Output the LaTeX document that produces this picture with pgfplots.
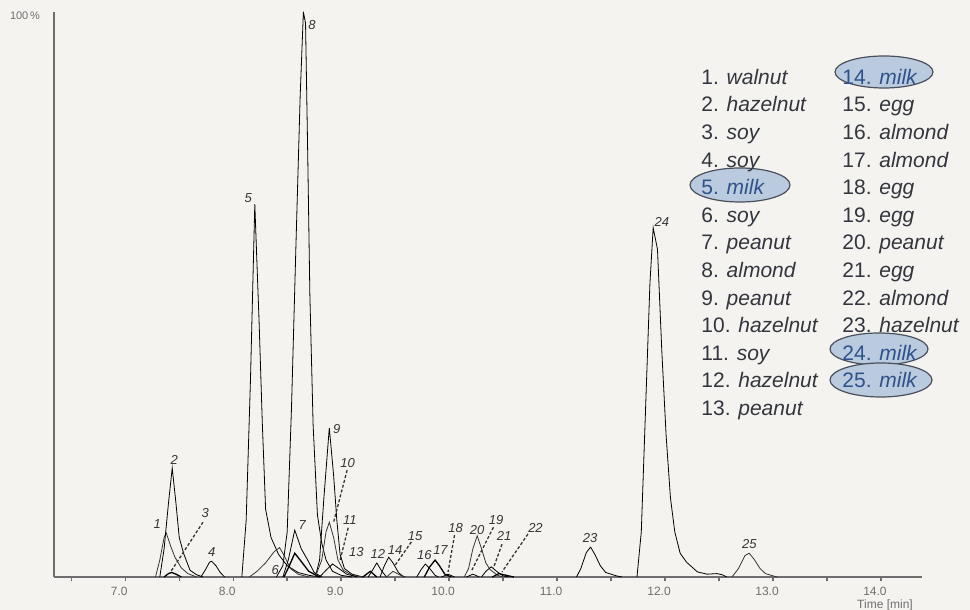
\documentclass[border=0pt]{standalone}
\usepackage{fontspec}
\setmainfont{Liberation Sans}
\usepackage{pgfplots}
\pgfplotsset{compat=1.18}
\definecolor{bg}{HTML}{F4F3EF}
\definecolor{trace}{HTML}{353535}
\definecolor{axc}{HTML}{6E6E6E}
\definecolor{legtxt}{HTML}{33363E}
\definecolor{milktxt}{HTML}{2E5289}
\definecolor{milkfill}{HTML}{BACADF}
\definecolor{milkdraw}{HTML}{4A505C}
\begin{document}
\begin{tikzpicture}
\fill[bg] (0,0) rectangle (485pt,305pt);
\useasboundingbox (0,0) rectangle (485pt,305pt);
\begin{axis}[
  at={(27pt,16.5pt)}, anchor=south west,
  scale only axis, width=434pt, height=282.5pt,
  xmin=6.34, xmax=14.38, ymin=0, ymax=100,
  axis x line=bottom, axis y line=left,
  axis line style={-, axc, line width=0.8pt},
  xtick={6.5,7,7.5,8,8.5,9,9.5,10,10.5,11,11.5,12,12.5,13,13.5,14},
  xticklabels={,7.0,,8.0,,9.0,,10.0,,11.0,,12.0,,13.0,,14.0},
  ytick=\empty,
  tick align=outside, major tick length=2.2pt,
  tick style={axc, line width=0.7pt},
  /pgf/number format/assume math mode=true,
  xticklabel style={font=\fontsize{6}{7}\selectfont, text=axc, xshift=-3pt, yshift=0.5pt},
  clip=false,
  cycle list={{trace, solid, line width=0.65pt, line join=round, mark=none}},
]
% 1 walnut
\addplot coordinates {(7.28,0)(7.32,3)(7.36,7)(7.38,7.8)(7.42,5.5)(7.46,3.5)(7.52,1.6)(7.58,0.6)(7.66,0)};
% 2 hazelnut
\addplot coordinates {(7.32,0)(7.36,5)(7.40,13)(7.435,19.3)(7.47,13)(7.50,7)(7.54,4.2)(7.60,1.2)(7.66,0.4)(7.72,0)};
% 3 soy
\addplot coordinates {(7.36,0)(7.40,0.6)(7.43,0.8)(7.47,0.5)(7.52,0)};
% 4 soy
\addplot coordinates {(7.70,0)(7.74,1.2)(7.78,2.6)(7.80,2.8)(7.84,2.0)(7.88,0.8)(7.92,0)};
% 5 milk
\addplot coordinates {(8.08,0)(8.12,10)(8.16,35)(8.20,66)(8.24,45)(8.27,27)(8.30,12)(8.35,7)(8.42,4)(8.50,2)(8.60,0.8)(8.70,0.3)(8.80,0)};
% 6 soy
\addplot coordinates {(8.15,0)(8.22,1)(8.30,2.5)(8.38,4.5)(8.43,5.2)(8.48,3.5)(8.53,1.5)(8.60,0.5)(8.70,0)};
% 7 peanut
\addplot coordinates {(8.46,0)(8.51,3)(8.57,8.3)(8.63,5)(8.69,3)(8.75,0.8)(8.82,0)};
\addplot coordinates {(8.47,0)(8.52,2)(8.57,4.2)(8.62,3)(8.70,1)(8.80,0)};
% 8 almond
\addplot coordinates {(8.40,0)(8.46,2)(8.50,8)(8.54,30)(8.58,58)(8.62,85)(8.65,100)(8.67,98)(8.69,75)(8.71,50)(8.74,27)(8.78,11)(8.82,6)(8.86,3)(8.92,1)(9.00,0.3)(9.10,0)};
% 9 peanut
\addplot coordinates {(8.76,0)(8.80,3)(8.84,14)(8.89,26.4)(8.93,18)(8.96,10)(8.99,4)(9.03,1.5)(9.10,0.5)(9.20,0)};
% 10 hazelnut
\addplot coordinates {(8.76,0)(8.82,3)(8.86,8)(8.89,9.7)(8.93,7)(8.97,3)(9.02,1.2)(9.10,0.3)(9.20,0)};
% 11 soy
\addplot coordinates {(8.80,0)(8.86,1.2)(8.92,2.3)(8.98,1.5)(9.05,0.5)(9.15,0)};
% 13 peanut
\addplot coordinates {(9.20,0)(9.27,1.0)(9.33,0)};
% 12 hazelnut
\addplot coordinates {(9.25,0)(9.29,1.2)(9.33,2.5)(9.37,1.2)(9.42,0)};
% 14 milk
\addplot coordinates {(9.36,0)(9.40,2)(9.44,3.5)(9.48,2.5)(9.53,0.8)(9.58,0)};
% 15 egg
\addplot coordinates {(9.42,0)(9.48,1)(9.55,0.3)(9.60,0)};
% 16 almond
\addplot coordinates {(9.70,0)(9.74,1.3)(9.78,2.3)(9.82,1.5)(9.87,0.3)(9.90,0)};
% 17 almond
\addplot coordinates {(9.77,0)(9.82,1.8)(9.87,3)(9.91,2)(9.96,0.5)(10.02,0)};
% 18 egg
\addplot coordinates {(9.93,0)(9.99,0.5)(10.05,0)};
% 19 egg
\addplot coordinates {(10.16,0)(10.22,0.5)(10.28,0)};
% 20 peanut
\addplot coordinates {(10.14,0)(10.18,1.5)(10.22,5)(10.26,7.3)(10.30,5)(10.34,2.5)(10.38,1.3)(10.45,0.3)(10.50,0)};
% 21 egg
\addplot coordinates {(10.30,0)(10.34,1.0)(10.39,1.8)(10.44,1.0)(10.50,0.2)(10.55,0)};
% 22 almond
\addplot coordinates {(10.40,0)(10.46,0.6)(10.55,0.2)(10.60,0)};
% 23 hazelnut
\addplot coordinates {(11.18,0)(11.22,1.5)(11.27,4.3)(11.31,5.3)(11.35,4)(11.40,2)(11.45,0.8)(11.55,0.2)(11.60,0)};
% 24 milk
\addplot coordinates {(11.74,0)(11.78,8)(11.82,30)(11.86,52)(11.89,61.8)(11.93,58)(11.97,40)(12.01,25)(12.05,14)(12.09,8)(12.14,4.2)(12.20,2.6)(12.30,0.9)(12.39,0.5)(12.48,0.6)(12.53,0.4)(12.57,0)};
% 25 milk
\addplot coordinates {(12.62,0)(12.68,1.5)(12.74,3.8)(12.78,4.2)(12.83,3)(12.88,1.5)(12.93,0.6)(13.00,0.2)(13.04,0)};

% peak labels
\begin{scope}[every node/.style={font=\fontsize{6.5}{7.5}\selectfont\itshape, text=trace, inner sep=0.5pt}]
\node at (axis cs:7.296,9.4) {1};
\node at (axis cs:7.454,20.7) {2};
\node at (axis cs:7.74,11.3) {3};
\node at (axis cs:7.80,4.4) {4};
\node at (axis cs:8.14,67.1) {5};
\node at (axis cs:8.39,1.3) {6};
\node at (axis cs:8.64,9.2) {7};
\node at (axis cs:8.73,97.7) {8};
\node at (axis cs:8.96,26.2) {9};
\node at (axis cs:9.06,20.2) {10};
\node at (axis cs:9.08,10.1) {11};
\node at (axis cs:9.14,4.4) {13};
\node at (axis cs:9.34,4.1) {12};
\node at (axis cs:9.50,4.8) {14};
\node at (axis cs:9.685,7.3) {15};
\node at (axis cs:9.77,3.9) {16};
\node at (axis cs:9.92,4.8) {17};
\node at (axis cs:10.06,8.7) {18};
\node at (axis cs:10.26,8.3) {20};
\node at (axis cs:10.435,10.1) {19};
\node at (axis cs:10.51,7.3) {21};
\node at (axis cs:10.80,8.7) {22};
\node at (axis cs:11.305,6.9) {23};
\node at (axis cs:11.97,62.8) {24};
\node at (axis cs:12.78,5.8) {25};
\end{scope}
\begin{scope}[trace, line width=0.65pt, dash pattern=on 1.5pt off 1pt]
\draw (axis cs:7.72,9.7) -- (axis cs:7.42,0.9);
\draw (axis cs:9.055,18.9) -- (axis cs:8.93,9.7);
\draw (axis cs:9.065,8.7) -- (axis cs:8.99,3.0);
\draw (axis cs:9.65,6.2) -- (axis cs:9.50,2.1);
\draw (axis cs:10.05,7.4) -- (axis cs:9.99,0.9);
\draw (axis cs:10.41,8.8) -- (axis cs:10.21,1.2);
\draw (axis cs:10.49,5.8) -- (axis cs:10.41,1.6);
\draw (axis cs:10.73,7.6) -- (axis cs:10.49,0.9);
\end{scope}
\end{axis}

% axis texts
\node[font=\fontsize{5.5}{6}\selectfont, text=axc] at (12.5pt,297pt) {100\,\%};
\node[font=\fontsize{6}{7}\selectfont, text=axc] at (442.5pt,2.4pt) {Time [min]};

% legend ellipses
\filldraw[fill=milkfill, draw=milkdraw, line width=0.6pt] (370pt,212.5pt) ellipse [x radius=25pt, y radius=8.5pt];
\filldraw[fill=milkfill, draw=milkdraw, line width=0.6pt] (442pt,269pt) ellipse [x radius=24.5pt, y radius=8pt];
\filldraw[fill=milkfill, draw=milkdraw, line width=0.6pt] (439.5pt,130.5pt) ellipse [x radius=24.5pt, y radius=8pt];
\filldraw[fill=milkfill, draw=milkdraw, line width=0.6pt] (440.5pt,115pt) ellipse [x radius=25.5pt, y radius=8.5pt];

% legend text
\begin{scope}[every node/.style={anchor=base west, inner sep=0pt, font=\fontsize{10.5}{12}\selectfont, text=legtxt}]
\node at (350.5pt,262.8pt) {1. \textit{walnut}};
\node at (350.5pt,249.0pt) {2. \textit{hazelnut}};
\node at (350.5pt,235.2pt) {3. \textit{soy}};
\node at (350.5pt,221.4pt) {4. \textit{soy}};
\node[text=milktxt] at (350.5pt,207.6pt) {5. \textit{milk}};
\node at (350.5pt,193.8pt) {6. \textit{soy}};
\node at (350.5pt,180.0pt) {7. \textit{peanut}};
\node at (350.5pt,166.2pt) {8. \textit{almond}};
\node at (350.5pt,152.4pt) {9. \textit{peanut}};
\node at (350.5pt,138.6pt) {10. \textit{hazelnut}};
\node at (350.5pt,124.8pt) {11. \textit{soy}};
\node at (350.5pt,111.0pt) {12. \textit{hazelnut}};
\node at (350.5pt,97.2pt) {13. \textit{peanut}};
\node[text=milktxt] at (421pt,262.8pt) {14. \textit{milk}};
\node at (421pt,249.0pt) {15. \textit{egg}};
\node at (421pt,235.2pt) {16. \textit{almond}};
\node at (421pt,221.4pt) {17. \textit{almond}};
\node at (421pt,207.6pt) {18. \textit{egg}};
\node at (421pt,193.8pt) {19. \textit{egg}};
\node at (421pt,180.0pt) {20. \textit{peanut}};
\node at (421pt,166.2pt) {21. \textit{egg}};
\node at (421pt,152.4pt) {22. \textit{almond}};
\node at (421pt,138.6pt) {23. \textit{hazelnut}};
\node[text=milktxt] at (421pt,124.8pt) {24. \textit{milk}};
\node[text=milktxt] at (421pt,111.0pt) {25. \textit{milk}};
\end{scope}
\end{tikzpicture}
\end{document}
